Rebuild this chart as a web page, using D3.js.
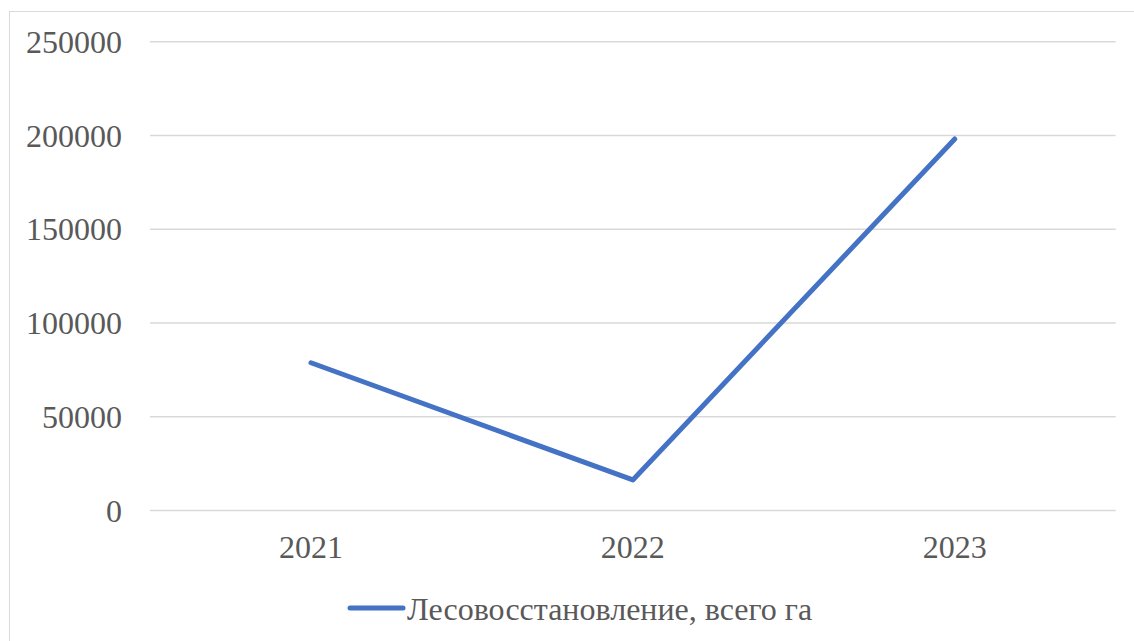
<!DOCTYPE html>
<html lang="ru">
<head>
    <meta charset="UTF-8">
    <title>Лесовосстановление</title>
    <style>
        body { margin: 0; background: #fff; }
        svg { display: block; }
        text { font-family: "Liberation Serif", "Times New Roman", "DejaVu Serif", serif; fill: #595959; }
    </style>
</head>
<body>
    <div id="wrapper"></div>
    <script src="https://d3js.org/d3.v7.min.js"></script>
    <script>
        // данные
        const years = ["2021", "2022", "2023"];
        const values = [78800, 16300, 198100];
        const yTicks = [0, 50000, 100000, 150000, 200000, 250000];
        const seriesName = "Лесовосстановление, всего га";

        const dimensions = {
            width: 1134,
            height: 641,
            margin: { top: 41.7, right: 18.3, bottom: 130.5, left: 150 },
        };
        dimensions.boundedWidth = dimensions.width - dimensions.margin.left - dimensions.margin.right;
        dimensions.boundedHeight = dimensions.height - dimensions.margin.top - dimensions.margin.bottom;

        const wrapper = d3.select("#wrapper")
            .append("svg")
            .attr("width", dimensions.width)
            .attr("height", dimensions.height);

        // рамка диаграммы
        wrapper.append("rect")
            .attr("x", 9.5)
            .attr("y", 11.5)
            .attr("width", 1200)
            .attr("height", 700)
            .attr("fill", "none")
            .attr("stroke", "#d9d9d9")
            .attr("stroke-width", 1);

        const bounds = wrapper.append("g")
            .attr("transform", `translate(${dimensions.margin.left},${dimensions.margin.top})`);

        const xScale = d3.scaleBand()
            .domain(years)
            .range([0, dimensions.boundedWidth]);

        const yScale = d3.scaleLinear()
            .domain([0, 250000])
            .range([dimensions.boundedHeight, 0]);

        // сетка
        bounds.append("g")
            .selectAll("line")
            .data(yTicks)
            .join("line")
            .attr("x1", 0)
            .attr("x2", dimensions.boundedWidth)
            .attr("y1", d => yScale(d))
            .attr("y2", d => yScale(d))
            .attr("stroke", "#d9d9d9")
            .attr("stroke-width", 1.5);

        // ось Y
        const yAxis = bounds.append("g")
            .call(d3.axisLeft(yScale).tickValues(yTicks).tickSize(0).tickPadding(28).tickFormat(d3.format("d")));
        yAxis.select(".domain").remove();
        yAxis.selectAll("text")
            .style("font-size", "32px")
            .style("font-family", "'Liberation Serif', 'Times New Roman', 'DejaVu Serif', serif")
            .attr("fill", "#595959")
            .attr("dy", "0.33em");

        // ось X
        const xAxis = bounds.append("g")
            .attr("transform", `translate(0,${dimensions.boundedHeight})`)
            .call(d3.axisBottom(xScale).tickSize(0).tickPadding(0));
        xAxis.select(".domain").remove();
        xAxis.selectAll("text")
            .style("font-size", "32px")
            .style("font-family", "'Liberation Serif', 'Times New Roman', 'DejaVu Serif', serif")
            .attr("fill", "#595959")
            .attr("y", 47.5)
            .attr("dy", 0);

        // линия
        const lineGenerator = d3.line()
            .x((d, i) => xScale(years[i]) + xScale.bandwidth() / 2)
            .y(d => yScale(d));

        bounds.append("path")
            .attr("d", lineGenerator(values))
            .attr("fill", "none")
            .attr("stroke", "#4472C4")
            .attr("stroke-width", 5)
            .attr("stroke-linecap", "round")
            .attr("stroke-linejoin", "round");

        // легенда
        const legend = wrapper.append("g")
            .attr("transform", "translate(348,608)");
        legend.append("line")
            .attr("x1", 2)
            .attr("x2", 55)
            .attr("y1", 0)
            .attr("y2", 0)
            .attr("stroke", "#4472C4")
            .attr("stroke-width", 5)
            .attr("stroke-linecap", "round");
        legend.append("text")
            .attr("x", 59)
            .attr("y", 12)
            .style("font-size", "32px")
            .text(seriesName);
    </script>
</body>
</html>
